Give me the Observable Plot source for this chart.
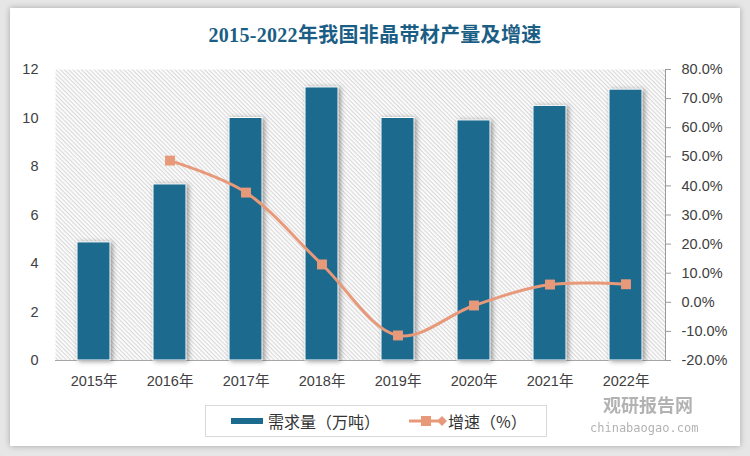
<!DOCTYPE html>
<html><head><meta charset="utf-8">
<script src="https://cdn.jsdelivr.net/npm/d3@7"></script>
<script src="https://cdn.jsdelivr.net/npm/@observablehq/plot@0.6"></script>
<style>
html,body{margin:0;padding:0;}
body{width:750px;height:456px;background:#e6e6e6;overflow:hidden;position:relative;font-family:"Liberation Sans","Noto Sans CJK SC",sans-serif;}
#card{position:absolute;left:10px;top:8px;width:730px;height:438px;background:#fff;box-shadow:0 0 6px rgba(0,0,0,0.28);}
#chart{position:absolute;left:0;top:0;}
#title{position:absolute;left:0;top:23px;width:750px;text-align:center;font:bold 20px/24px "Liberation Serif","Noto Sans CJK SC",serif;color:#1b5e85;letter-spacing:0.3px;}
#legend{position:absolute;left:205px;top:405px;width:340px;height:30px;border:1px solid #d9d9d9;background:#fff;font:16px/30px "Noto Sans CJK SC",sans-serif;color:#333;}
#legend .sw1{position:absolute;left:25px;top:12px;width:32px;height:6px;background:#1c6a8e;}
#legend .t1{position:absolute;left:62px;top:0;}
#legend .sw2{position:absolute;left:203px;top:7px;}
#legend .t2{position:absolute;left:242px;top:0;}
#wm1{position:absolute;left:603px;top:393px;font:bold 18px/22px "Noto Sans CJK SC",sans-serif;color:#a0a0a0;opacity:0.8;}
#wm2{position:absolute;left:590px;top:421px;font:12px/14px "DejaVu Sans Mono","Liberation Mono",monospace;color:#a0a0a0;opacity:0.8;}
svg g[aria-label="bar"]{filter:drop-shadow(2px 1px 2.5px rgba(0,0,0,0.4));}
</style>
</head><body>
<svg width="0" height="0" style="position:absolute"><defs>
<pattern id="hatch" width="3" height="3" patternUnits="userSpaceOnUse" patternTransform="rotate(45)">
<rect width="3" height="3" fill="#ffffff"/><line x1="0" y1="0.7" x2="3" y2="0.7" stroke="#d4d4d4" stroke-width="1.1"/>
</pattern></defs></svg>
<div id="card"></div>
<div id="chart"></div>
<div id="title">2015-2022年我国非晶带材产量及增速</div>
<div id="wm1">观研报告网</div>
<div id="wm2">chinabaogao.com</div>
<div id="legend">
  <div class="sw1"></div><div class="t1">需求量（万吨）</div>
  <svg class="sw2" width="38" height="16"><line x1="0" y1="8" x2="34" y2="8" stroke="#e8997a" stroke-width="3"/><rect x="12" y="3" width="10" height="10" fill="#e8997a"/><path d="M33 3 L38 8 L33 13 L28 8Z" fill="#e8997a"/></svg>
  <div class="t2">增速（%）</div>
</div>
<script>
const years = ["2015年","2016年","2017年","2018年","2019年","2020年","2021年","2022年"];
const demand = [4.87, 7.26, 10.0, 11.26, 10.0, 9.9, 10.5, 11.17];
const growth = [null, 48.7, 37.7, 13.0, -11.4, -1.1, 6.1, 6.2];
const leftTicks = [0, 2, 4, 6, 8, 10, 12];
const rightTicks = [-20, -10, 0, 10, 20, 30, 40, 50, 60, 70, 80];

const pctToY = p => (p + 20) * 12 / 100;
const yToPct = y => Math.round(y * 100 / 12 - 20);

const barData = years.map((y, i) => ({year: y, demand: demand[i]}));
const lineData = years.map((y, i) => ({year: y, growth: growth[i]})).filter(d => d.growth != null);

const chart = Plot.plot({
  width: 750, height: 456,
  marginLeft: 55, marginRight: 85, marginTop: 69, marginBottom: 96,
  style: {background: "transparent", fontFamily: "'Liberation Sans','Noto Sans CJK SC',sans-serif", fontSize: "14.5px", color: "#404040"},
  x: {domain: years, paddingInner: 0.56, paddingOuter: 0.28, label: null},
  y: {domain: [0, 12], label: null},
  marks: [
    Plot.frame({fill: "url(#hatch)", stroke: null}),
    Plot.frame({anchor: "right", stroke: "#9a9a9a"}),
    Plot.ruleY([0], {stroke: "#a6a6a6", strokeWidth: 1}),
    Plot.barY(barData, {x: "year", y: "demand", fill: "#1c6a8e", stroke: "#ffffff", strokeWidth: 1}),
    Plot.line(lineData, {x: "year", y: d => pctToY(d.growth), curve: "catmull-rom", stroke: "#e8997a", strokeWidth: 3}),
    Plot.dot(lineData, {x: "year", y: d => pctToY(d.growth), symbol: "square", r: 5.6, fill: "#e8997a", stroke: null}),
    Plot.axisY({anchor: "left", ticks: leftTicks, tickSize: 0, tickPadding: 17, label: null, fill: "#404040"}),
    Plot.axisY({anchor: "right", ticks: rightTicks.map(pctToY), tickSize: 5, tickPadding: 11, label: null,
      tickFormat: y => yToPct(y).toFixed(1) + "%", stroke: "#9a9a9a", fill: "#404040"}),
    Plot.axisX({tickSize: 0, tickPadding: 15, label: null, fill: "#404040"})
  ]
});
document.getElementById("chart").appendChild(chart);
</script>
</body></html>
